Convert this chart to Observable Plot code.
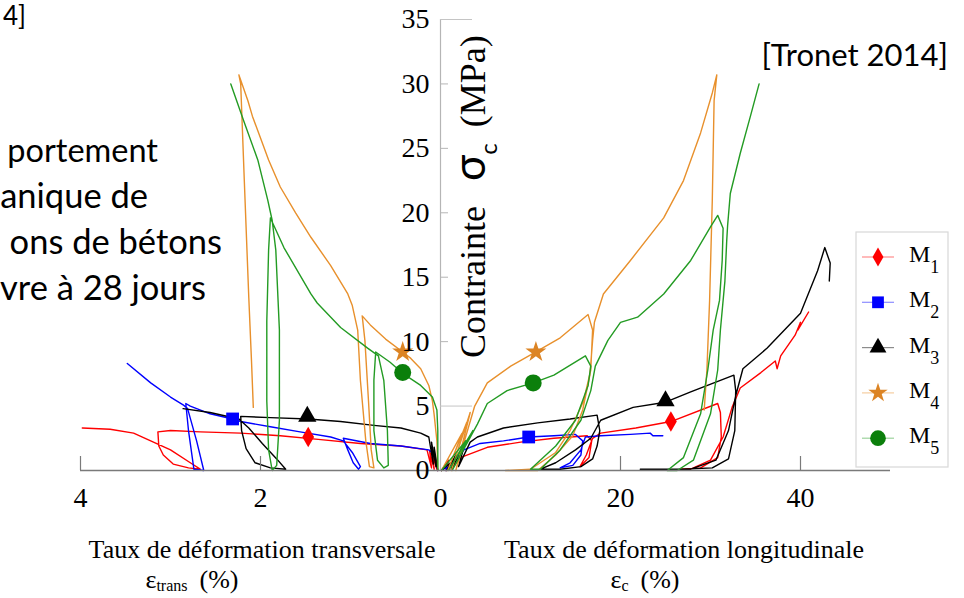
<!DOCTYPE html>
<html><head><meta charset="utf-8">
<script src="https://cdn.jsdelivr.net/npm/d3@7"></script>
<script src="https://cdn.jsdelivr.net/npm/@observablehq/plot@0.6"></script>
<style>
html,body{margin:0;padding:0;background:#fff;overflow:hidden;width:964px;height:598px}
#chart{position:relative;width:964px;height:598px}
</style></head><body><div id="chart"></div>
<script>
// ---------- data ----------
const series = ["M1", "M2", "M3", "M4", "M5"];
const lineColors = ["#ff0000", "#0000ff", "#000000", "#e8902c", "#239b23"];
const markColors = ["#ff0000", "#0000ff", "#000000", "#dc8424", "#0b7f0b"];
const symbols = ["diamond", "square", "triangle", "star", "circle"];

// 1 % of transverse strain is drawn with the length of 10 % of longitudinal strain
const TRANS_FACTOR = 10;

// transverse strain (%) , stress (MPa)
const m1Trans = [[0.03,0],[0.06,1.0],[0.04,0.1],[0.09,1.3],[0.07,0.1],[0.12,1.5],[0.1,0.2],[0.15,1.6],[0.44,1.9],[0.89,2.1],[1.33,2.4],[1.78,2.7],[2.22,2.9],[2.67,3.0],[3.0,3.1],[3.14,3.0],[3.13,1.9],[3.08,1.2],[2.97,0.5],[2.8,0.2],[2.67,0.1],[2.78,0.6],[3.0,1.6],[3.22,2.3],[3.41,2.9],[3.67,3.2],[3.98,3.3]];
const m2Trans = [[0.03,0],[0.06,1.2],[0.13,1.6],[0.44,1.9],[0.78,2.1],[1.08,2.5],[1.03,1.6],[0.97,0.6],[0.91,0.1],[0.89,0.3],[0.98,1.4],[1.08,2.3],[1.22,2.6],[1.56,3.0],[1.89,3.4],[2.22,3.8],[2.31,4.0],[2.56,4.4],[2.78,5.0],[2.83,5.2],[2.8,3.1],[2.74,0.1],[2.63,0],[2.71,2.3],[2.81,4.8],[2.86,5.1],[3.0,5.7],[3.22,6.8],[3.48,8.3]];
const m3Trans = [[0.03,0],[0.07,1.8],[0.05,0.3],[0.1,2.2],[0.08,0.5],[0.13,2.6],[0.22,2.9],[0.44,3.3],[0.74,3.5],[1.11,3.8],[1.47,4.0],[1.89,4.1],[2.22,4.2],[2.21,3.1],[2.16,1.7],[2.06,0.6],[1.89,0.2],[1.72,0.1],[1.82,0.9],[1.98,2.1],[2.13,3.3],[2.24,4.0],[2.56,4.5],[2.86,4.8]];
const m4Trans = [[0.03,0.1],[0.04,2.3],[0.07,4.3],[0.09,5.4],[0.13,6.6],[0.22,7.9],[0.33,8.7],[0.42,9.2],[0.61,10.2],[0.78,11.3],[0.87,12.0],[0.84,10.1],[0.8,5.4],[0.77,1.6],[0.74,0.2],[0.79,0.3],[0.83,2.3],[0.89,7.0],[0.92,10.9],[0.98,12.8],[1.03,13.7],[1.22,15.9],[1.44,18.1],[1.61,20.0],[1.78,22.0],[1.91,24.1],[2.0,25.8],[2.09,27.5],[2.14,28.7],[2.2,29.9],[2.24,30.7],[2.22,30.0],[2.18,22.5],[2.13,13.4],[2.1,8.5],[2.08,4.9]];
const m5Trans = [[0.03,0.1],[0.03,3.1],[0.04,4.7],[0.09,5.7],[0.22,6.6],[0.37,7.3],[0.43,7.6],[0.56,8.4],[0.72,9.2],[0.74,7.0],[0.74,3.1],[0.7,0.8],[0.63,0.2],[0.58,0.4],[0.59,3.1],[0.63,7.0],[0.69,8.9],[0.81,9.5],[1.11,11.1],[1.37,13.0],[1.44,13.7],[1.74,17.3],[1.89,19.6],[1.91,17.1],[1.93,11.6],[1.93,5.4],[1.91,1.6],[1.87,0],[1.82,0.4],[1.79,3.9],[1.79,10.9],[1.83,17.1],[1.87,19.4],[1.92,21.0],[2.03,24.1],[2.19,27.2],[2.33,30.0]];

// longitudinal strain (%) , stress (MPa)
const m1Long = [[0.1,0],[0.9,0.8],[0.6,0],[1.7,0.9],[1.2,0.1],[2.2,1.0],[5.2,1.8],[8.9,2.2],[12.6,2.5],[16.3,2.7],[16.8,2.3],[16.5,1.0],[15.5,0.3],[16.2,1.2],[16.9,2.5],[17.8,2.9],[21.7,3.3],[25.6,3.8],[30.8,5.2],[31.1,4.5],[31.2,2.6],[30.8,1.0],[28.9,0.2],[26.7,0.1],[27.8,0.1],[30.0,0.8],[31.4,2.6],[32.4,4.9],[33.3,6.4],[35.6,7.6],[37.2,8.5],[37.4,7.9],[37.8,8.9],[39.4,10.5],[40.0,11.5],[39.7,10.9],[40.9,12.3]];
const m2Long = [[0.1,0],[1.1,0.4],[0.6,0],[1.4,0.8],[2.6,1.6],[4.4,2.1],[7.0,2.3],[9.8,2.6],[12.6,2.7],[15.0,2.8],[15.8,2.3],[15.6,1.2],[14.7,0.4],[13.3,0.2],[14.4,0.6],[15.6,1.6],[16.1,2.6],[17.8,2.7],[21.1,2.8],[23.3,2.9],[23.6,2.7],[24.7,2.7]];
const m3Long = [[0.1,0],[1.1,0.6],[0.7,0],[1.7,1.2],[1.2,0.1],[2.6,1.8],[2.0,0.3],[3.3,2.2],[4.1,2.6],[7.0,3.3],[10.8,3.7],[14.4,4.0],[17.4,4.3],[17.7,3.1],[17.4,1.9],[16.9,0.9],[15.6,0.3],[13.3,0.1],[11.1,0.1],[12.8,0.6],[15.0,1.6],[16.7,2.5],[17.8,3.9],[21.4,4.9],[25.0,5.3],[27.8,6.1],[32.6,7.4],[32.8,6.2],[32.7,3.1],[32.0,0.9],[30.2,0.2],[26.7,0.1],[22.2,0.1],[27.8,0.1],[30.6,0.8],[32.0,3.1],[32.8,5.8],[33.6,7.9],[36.3,9.5],[40.0,12.2],[41.9,15.5],[42.7,17.3],[43.3,16.1],[43.2,14.7]];
const m4Long = [[0.1,0],[2.4,2.9],[0.8,0],[2.9,3.7],[1.2,0],[3.3,4.5],[1.7,0],[3.8,5.0],[5.2,6.8],[7.8,8.1],[10.6,9.2],[13.3,10.3],[16.4,12.1],[16.9,10.9],[16.7,7.8],[15.9,5.4],[14.4,3.1],[12.8,1.4],[10.0,0.1],[7.2,0],[10.8,0],[12.8,1.2],[14.7,2.7],[15.8,4.7],[16.6,7.4],[16.9,10.1],[17.1,11.5],[18.1,13.7],[21.1,16.3],[24.8,19.6],[27.0,22.5],[28.9,26.2],[30.2,29.3],[30.7,30.7],[30.4,28.7],[30.2,21.0],[29.9,13.2],[29.6,7.8],[29.3,4.7]];
const m5Long = [[0.1,0],[2.8,2.3],[0.9,0],[3.6,3.1],[1.3,0],[4.1,3.6],[5.2,5.2],[7.4,6.2],[10.3,6.8],[12.6,7.4],[16.1,8.9],[16.7,8.1],[16.4,6.6],[15.0,3.9],[12.8,1.9],[10.0,0.1],[11.1,0.1],[13.3,1.6],[15.6,3.9],[16.7,6.2],[17.2,8.1],[18.6,10.1],[20.0,11.5],[21.9,11.9],[24.8,13.7],[27.8,16.3],[30.0,18.9],[30.8,19.8],[31.4,18.8],[31.3,16.3],[31.0,13.2],[30.3,10.9],[29.7,7.8],[28.9,4.4],[27.0,1.0],[25.2,0],[26.3,0],[28.1,0.8],[30.0,4.4],[30.8,7.8],[31.1,10.9],[31.6,14.7],[31.8,17.8],[31.9,19.0],[32.2,21.5],[33.3,24.6],[34.4,27.4],[35.4,30.0]];

// marker positions per series (M1..M5)
const markTransStrain = [1.47, 2.31, 1.48, 0.42, 0.42];
const markTransStress = [2.6, 4.0, 4.2, 9.2, 7.6];
const markLongStrain = [25.6, 9.8, 25.0, 10.6, 10.3];
const markLongStress = [3.8, 2.6, 5.4, 9.2, 6.8];

// axes
const xTickPos = [-40, -20, 0, 20, 40];
const xTickLabels = ["4", "2", "0", "20", "40"];
const yTicks = [0, 5, 10, 15, 20, 25, 30, 35];
const yLongTicks = [5, 35];

// ---------- build table ----------
const transCurves = [m1Trans, m2Trans, m3Trans, m4Trans, m5Trans];
const longCurves = [m1Long, m2Long, m3Long, m4Long, m5Long];
const rows = [];
series.forEach((name, i) => {
  transCurves[i].forEach(([t, s]) => rows.push({u: -t * TRANS_FACTOR, s, id: name + "-trans", color: lineColors[i]}));
  longCurves[i].forEach(([e, s]) => rows.push({u: e, s, id: name + "-long", color: lineColors[i]}));
});
const marks = [];
series.forEach((name, i) => {
  marks.push({u: -markTransStrain[i] * TRANS_FACTOR, s: markTransStress[i], i});
  marks.push({u: markLongStrain[i], s: markLongStress[i], i});
});
const markR = [6.2, 7.2, 6.8, 6.6, 8.5];
const xLabel = new Map(xTickPos.map((p, k) => [p, xTickLabels[k]]));
const serif = "'Liberation Serif', 'Times New Roman', serif";
const sans = "Lato, 'Open Sans', sans-serif";

const plot = Plot.plot({
  width: 964, height: 598,
  marginLeft: 80, marginRight: 74, marginTop: 19, marginBottom: 128,
  x: {domain: [-40, 50], axis: null},
  y: {domain: [0, 35], axis: null},
  style: {background: "white"},
  marks: [
    Plot.ruleX([0], {stroke: "#b5b5b5", strokeWidth: 1.2}),
    Plot.tickY(yTicks.filter(d => d !== 0 && !yLongTicks.includes(d)), {y: d => d, stroke: "#b5b5b5", insetLeft: 360, insetRight: 442}),
    Plot.tickY(yLongTicks, {y: d => d, stroke: "#c4c4c4", insetLeft: 360, insetRight: 418}),
    Plot.line(rows, {x: "u", y: "s", z: "id", stroke: "color", strokeWidth: 1.4, curve: "linear"}),
    Plot.ruleY([0], {stroke: "#7a7a7a", strokeWidth: 1.4}),
    Plot.tickX(xTickPos.filter(d => d !== 0), {x: d => d, stroke: "#7a7a7a", strokeWidth: 1.2, insetTop: 437}),
    ...series.map((name, i) => Plot.dot(marks.filter(d => d.i === i), {
      x: "u", y: "s", symbol: symbols[i], r: markR[i], fill: markColors[i], stroke: "none"
    })),
    Plot.text(xTickPos, {x: d => d, y: 0, text: d => xLabel.get(d), dy: 28, fontSize: 28, fontFamily: serif, fill: "#000"}),
    Plot.text(yTicks, {x: 0, y: d => d, text: d => String(d), textAnchor: "end", dx: -11, fontSize: 28, fontFamily: serif, fill: "#000"})
  ]
});
document.getElementById("chart").appendChild(plot);

// force serif face on the tick labels
d3.select(plot).selectAll('g[aria-label="text"] text').style("font-family", serif);

// ---------- annotations & legend ----------
const svg = d3.select(plot);
const addText = (x, y, anchor, family, size) => svg.append("text").attr("x", x).attr("y", y)
  .attr("text-anchor", anchor).style("font-family", family).attr("font-size", size).attr("fill", "#000");

// y title (reads bottom to top)
const yt = svg.append("text").attr("transform", "translate(485,358) rotate(-90)").attr("text-anchor", "start")
  .style("font-family", serif).attr("font-size", 36).attr("fill", "#000");
yt.append("tspan").text("Contrainte");
yt.append("tspan").attr("dx", 25).attr("font-size", 44).style("font-family", sans).text("σ");
yt.append("tspan").attr("dy", 12).attr("font-size", 24).style("font-family", sans).text("c");
yt.append("tspan").attr("dy", -12).attr("dx", 16).text("(MPa)");

// source
addText(948, 66, "end", sans, 31).text("[Tronet 2014]");

// left text block (partly outside the original slide)
addText(26, 25, "end", sans, 26).text("4]");
[["portement", 158, 162, 32.5], ["anique de", 148, 208, 34.5], ["ons de bétons", 222, 254, 34.5], ["vre à 28 jours", 206, 300, 34.5]]
  .forEach(([t, x, y, f]) => addText(x, y, "end", sans, f).text(t));

// x titles
addText(262, 558, "middle", serif, 26).text("Taux de déformation transversale");
const xt1 = addText(192, 588, "middle", serif, 26);
xt1.append("tspan").text("ε");
xt1.append("tspan").attr("font-size", 16).attr("dy", 3).text("trans");
xt1.append("tspan").attr("dy", -3).attr("dx", 12).text("(%)");
addText(684, 558, "middle", serif, 26).text("Taux de déformation longitudinale");
const xt2 = addText(645, 588, "middle", serif, 26);
xt2.append("tspan").text("ε");
xt2.append("tspan").attr("font-size", 16).attr("dy", 3).text("c");
xt2.append("tspan").attr("dy", -3).attr("dx", 12).text("(%)");

// legend
const lg = svg.append("g");
lg.append("rect").attr("x", 856).attr("y", 232).attr("width", 92).attr("height", 235)
  .attr("fill", "white").attr("stroke", "#d8d8d8").attr("stroke-width", 1.2);
const d3sym = {diamond: d3.symbolDiamond, square: d3.symbolSquare, triangle: d3.symbolTriangle, star: d3.symbolStar, circle: d3.symbolCircle};
series.forEach((name, i) => {
  const cy = 257 + i * 45.3;
  lg.append("line").attr("x1", 862).attr("x2", 894).attr("y1", cy).attr("y2", cy)
    .attr("stroke", lineColors[i]).attr("stroke-opacity", 0.45).attr("stroke-width", 1.2);
  lg.append("path").attr("transform", `translate(878,${cy})`)
    .attr("d", d3.symbol(d3sym[symbols[i]], Math.PI * markR[i] * markR[i] * 0.85)())
    .attr("fill", markColors[i]);
  const t = lg.append("text").attr("x", 909).attr("y", cy + 5).attr("text-anchor", "start")
    .style("font-family", serif).attr("font-size", 24).attr("fill", "#000");
  t.append("tspan").text(name[0]);
  t.append("tspan").attr("font-size", 18).attr("dy", 11).text(name.slice(1));
});
</script></body></html>
